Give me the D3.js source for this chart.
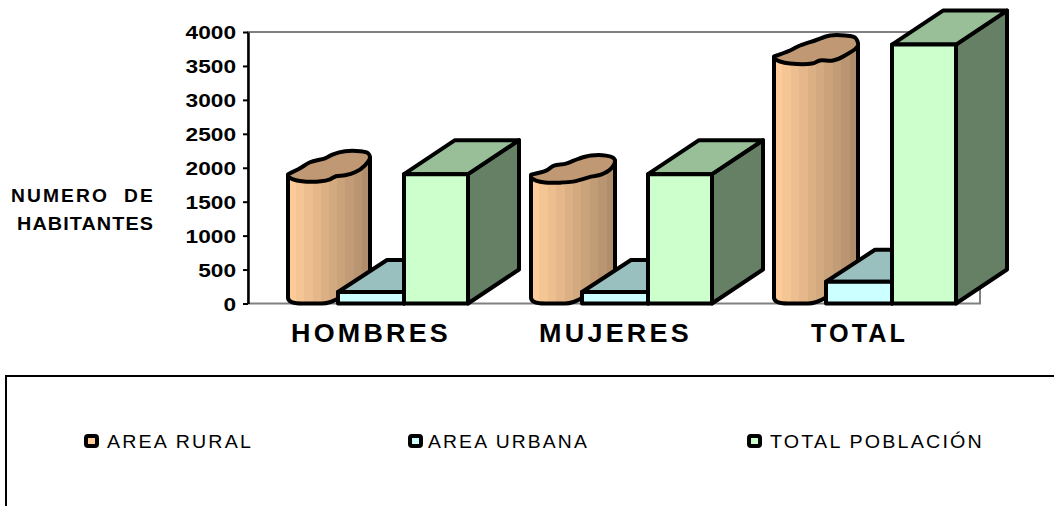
<!DOCTYPE html>
<html>
<head>
<meta charset="utf-8">
<script src="https://cdn.jsdelivr.net/npm/d3@7"></script>
<style>
    html, body { margin: 0; padding: 0; background: #fff; }
    svg { display: block; }
    text { font-family: "Liberation Sans", Arial, sans-serif; fill: #000; }
</style>
</head>
<body>
<div id="chart"></div>
<script>
// values
const categories = ["HOMBRES", "MUJERES", "TOTAL"];
const seriesNames = ["AREA RURAL", "AREA URBANA", "TOTAL POBLACIÓN"];
const areaRural = [1845, 1840, 3580];
const areaUrbana = [170, 170, 320];
const totalPoblacion = [1905, 1905, 3815];
const yTicks = [0, 500, 1000, 1500, 2000, 2500, 3000, 3500, 4000];

// the wobbly cylinder lids, traced per bar (relative to left edge / front top)
const lidLower = [
    [[0, -2], [5, 1], [14, 3], [33, 3], [42, 1], [48, -2], [57, -3], [67, -6], [77, -13], [82, -21]],
    [[0, -1], [5, 2], [14, 4], [30, 4], [42, 3], [50, 1], [60, -2], [70, -4], [80, -10], [84, -18]],
    [[0, -2], [6, 1], [16, 3], [38, 3], [46, 0], [59, 0], [71, -5], [84, -15]]
];
const lidUpper = [
    [[80, -25], [72, -27], [57, -27], [45, -24], [37, -20], [22, -16], [12, -10], [0, -4]],
    [[82, -21], [75, -23], [60, -23], [48, -20], [35, -15], [23, -13], [15, -8], [0, -4]],
    [[81, -23], [71, -25], [56, -25], [41, -20], [26, -15], [16, -10], [0, -4]]
];

const frontFill = { urban: "#CCFFFF", total: "#CCFFCC" };
const topFill = { urban: "#99BFBF", total: "#99BF99" };
const sideFill = { urban: "#668080", total: "#668066" };
const depthX = { urban: 49, total: 51 };
const depthY = { urban: 32, total: 34 };
const legendFill = ["#FFCC99", "#CCFFFF", "#CCFFCC"];

const width = 1054, height = 506;
const margin = { top: 32, left: 248, right: 74, bottom: 203 };
const lineW = 4;

const svg = d3.select("#chart").append("svg")
    .attr("width", width)
    .attr("height", height);

const y = d3.scaleLinear()
    .domain([0, 4000])
    .range([height - margin.bottom + 0.5, margin.top]);

const x = d3.scaleBand()
    .domain(categories)
    .range([margin.left - 88, margin.left - 88 + 732]);

// cylinders sit a little irregular compared to the boxes
const xRural = d3.scalePoint().domain(categories).range([288, 774]);

// stepped gradient for the cylinder body
const grad = svg.append("defs").append("linearGradient").attr("id", "cyl");
const shade = d3.interpolateRgb("#FFCC99", "#B08E6C");
const steps = 10;
d3.range(steps).forEach(function (i) {
    grad.append("stop").attr("offset", i / steps).attr("stop-color", shade(i / (steps - 1)));
    grad.append("stop").attr("offset", (i + 1) / steps).attr("stop-color", shade(i / (steps - 1)));
});

// back wall
svg.append("rect")
    .attr("x", margin.left)
    .attr("y", y(4000))
    .attr("width", 732)
    .attr("height", y(0) - y(4000))
    .attr("fill", "none")
    .attr("stroke", "#808080")
    .attr("stroke-width", 2);

// Y axis
const axis = svg.append("g")
    .attr("transform", "translate(" + margin.left + ",0)")
    .call(d3.axisLeft(y).tickValues(yTicks).tickFormat(d3.format("d")).tickSize(5).tickSizeOuter(0));
axis.select(".domain").attr("stroke", "#000").attr("stroke-width", 2.5);
axis.selectAll(".tick line").attr("stroke", "#000").attr("stroke-width", 2);
axis.selectAll(".tick text")
    .attr("x", -12)
    .attr("dy", "0.36em")
    .style("font-size", "18.5px")
    .style("font-weight", "bold")
    .attr("textLength", function (d) { return String(d).length * 12.6; })
    .attr("lengthAdjust", "spacingAndGlyphs");

const line = d3.line().curve(d3.curveCatmullRom.alpha(0.5));

function drawCylinder(g, i) {
    const left = xRural(categories[i]);
    const top = y(areaRural[i]);
    const bottom = y(0);
    const w = lidLower[i][lidLower[i].length - 1][0];
    const rightTop = top + lidLower[i][lidLower[i].length - 1][1];

    g.append("path")
        .attr("d", "M" + left + "," + (top - 2) +
            " V" + (bottom - 6) +
            " Q" + left + "," + bottom + " " + (left + 14) + "," + bottom +
            " H" + (left + 34) +
            " Q" + (left + 42) + "," + bottom + " " + (left + 52) + "," + (bottom - 6) +
            " L" + (left + w) + "," + (bottom - 32) +
            " V" + rightTop + " Z")
        .attr("fill", "url(#cyl)")
        .attr("stroke", "#000")
        .attr("stroke-width", lineW)
        .attr("stroke-linejoin", "round");

    const pts = lidLower[i].concat(lidUpper[i]).map(function (p) {
        return [left + p[0], top + p[1]];
    });
    g.append("path")
        .attr("d", line(pts) + " Z")
        .attr("fill", "#C09873")
        .attr("stroke", "#000")
        .attr("stroke-width", lineW)
        .attr("stroke-linejoin", "round");
}

function drawBox(g, left, w, value, kind) {
    const top = y(value), bottom = y(0);
    const dx = depthX[kind], dy = depthY[kind];
    const faces = [
        { pts: [[left + w, top], [left + w + dx, top - dy], [left + w + dx, bottom - dy], [left + w, bottom]], fill: sideFill[kind] },
        { pts: [[left, top], [left + dx, top - dy], [left + w + dx, top - dy], [left + w, top]], fill: topFill[kind] },
        { pts: [[left, top], [left + w, top], [left + w, bottom], [left, bottom]], fill: frontFill[kind] }
    ];
    g.selectAll("polygon")
        .data(faces)
        .enter()
        .append("polygon")
        .attr("points", function (d) { return d.pts.join(" "); })
        .attr("fill", function (d) { return d.fill; })
        .attr("stroke", "#000")
        .attr("stroke-width", lineW)
        .attr("stroke-linejoin", "round");
}

categories.forEach(function (c, i) {
    const g = svg.append("g").attr("class", "cat");
    drawCylinder(g, i);
    drawBox(g.append("g"), x(c) + 178, 66, areaUrbana[i], "urban");
    drawBox(g.append("g"), x(c) + 244, 64, totalPoblacion[i], "total");
});

// category labels
const catLabelX = [291, 539, 811];
const catLabelW = [160, 153, 97];
svg.selectAll(".catlabel")
    .data(categories)
    .enter()
    .append("text")
    .attr("class", "catlabel")
    .attr("x", function (d, i) { return catLabelX[i]; })
    .attr("y", 342)
    .attr("textLength", function (d, i) { return catLabelW[i]; })
    .attr("lengthAdjust", "spacingAndGlyphs")
    .style("font-size", "25px")
    .style("letter-spacing", "3px")
    .style("font-weight", "bold")
    .text(function (d) { return d; });

// y title
svg.append("text")
    .attr("x", 11).attr("y", 202)
    .attr("textLength", 144)
    .attr("lengthAdjust", "spacingAndGlyphs")
    .style("font-size", "18px").style("font-weight", "bold").style("letter-spacing", "2px")
    .style("white-space", "pre")
    .text("NUMERO  DE");
svg.append("text")
    .attr("x", 17).attr("y", 230)
    .attr("textLength", 137)
    .attr("lengthAdjust", "spacingAndGlyphs")
    .style("font-size", "18px").style("font-weight", "bold").style("letter-spacing", "1px")
    .text("HABITANTES");

// legend box, runs off the picture on the right and at the bottom
svg.append("path")
    .attr("d", "M" + width + ",376 H6 V" + height)
    .attr("fill", "none")
    .attr("stroke", "#000")
    .attr("stroke-width", 2);

const legendMarkX = [84, 408, 747];
const legendTextX = [107, 428, 770];
const legendTextW = [146, 161, 214];
const legend = svg.selectAll(".legend")
    .data(seriesNames)
    .enter()
    .append("g")
    .attr("class", "legend");
legend.append("rect")
    .attr("x", function (d, i) { return legendMarkX[i] + 2; })
    .attr("y", 436)
    .attr("width", 11)
    .attr("height", 10)
    .attr("rx", 2)
    .attr("fill", function (d, i) { return legendFill[i]; })
    .attr("stroke", "#000")
    .attr("stroke-width", 4);
legend.append("text")
    .attr("x", function (d, i) { return legendTextX[i]; })
    .attr("y", 448)
    .attr("textLength", function (d, i) { return legendTextW[i]; })
    .attr("lengthAdjust", "spacingAndGlyphs")
    .style("font-size", "18px")
    .style("letter-spacing", "2px")
    .text(function (d) { return d; });
</script>
</body>
</html>
